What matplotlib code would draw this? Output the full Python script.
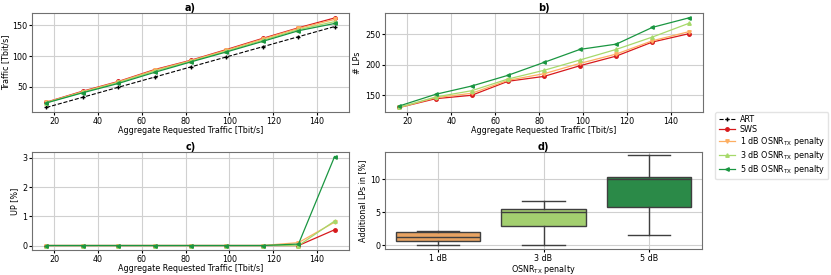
import matplotlib
matplotlib.use("Agg")
import matplotlib.pyplot as plt

plt.rcParams["font.size"] = 5.8

# aggregate requested traffic [Tbit/s]
art = [16.4, 32.9, 49.3, 65.8, 82.2, 98.6, 115.1, 131.5, 148.0]

# a) carried traffic [Tbit/s]
traffic_art = [16.4, 32.9, 49.3, 65.8, 82.2, 98.6, 115.1, 131.5, 148.0]
traffic_sws = [25.0, 42.8, 58.7, 78.0, 93.0, 110.6, 128.7, 146.0, 162.0]
traffic_1db = [24.5, 42.0, 58.0, 77.0, 92.3, 109.5, 127.5, 145.0, 159.5]
traffic_3db = [24.2, 41.2, 57.0, 75.5, 91.3, 108.0, 125.5, 143.0, 156.0]
traffic_5db = [23.8, 40.2, 55.5, 73.5, 90.3, 106.7, 123.8, 141.2, 153.0]

# b) number of LPs
lps_sws = [130.0, 144.4, 150.0, 173.0, 181.0, 198.6, 214.4, 237.4, 251.0]
lps_1db = [130.0, 146.0, 153.3, 174.6, 185.4, 202.4, 217.7, 239.5, 254.3]
lps_3db = [130.3, 147.2, 157.5, 176.7, 191.0, 208.0, 225.4, 245.6, 268.0]
lps_5db = [132.5, 151.6, 165.2, 182.8, 204.0, 225.4, 234.0, 261.5, 277.0]

# c) unserved percentage
up_sws = [0, 0, 0, 0, 0, 0, 0, 0.0, 0.54]
up_1db = [0, 0, 0, 0, 0, 0, 0, 0.10, 0.80]
up_3db = [0, 0, 0, 0, 0, 0, 0, 0.0, 0.84]
up_5db = [0, 0, 0, 0, 0, 0, 0, 0.05, 3.05]

# d) additional LPs box statistics [%]
penalties = ["1 dB", "3 dB", "5 dB"]
box_low = [0.0, 0.0, 1.56]
box_q1 = [0.6, 2.92, 5.85]
box_med = [1.2, 5.05, 10.1]
box_q3 = [1.97, 5.5, 10.3]
box_high = [2.2, 6.76, 13.6]

c_sws = "#d7191c"
c_1db = "#fdae61"
c_3db = "#a6d96a"
c_5db = "#1a9641"
box_colors = ["#e8a362", "#a3cf6f", "#2b8a48"]

fig = plt.figure(figsize=(8.31, 2.75), dpi=100)
ax_a = fig.add_axes([0.0385, 0.593, 0.3815, 0.358])
ax_b = fig.add_axes([0.4633, 0.593, 0.3827, 0.358])
ax_c = fig.add_axes([0.0385, 0.091, 0.3815, 0.356])
ax_d = fig.add_axes([0.4633, 0.094, 0.3815, 0.353])

lw = 0.9
ms = 2.5
ax_a.plot(art, traffic_art, "k--", marker="+", lw=0.8, ms=ms, label="ART")
ax_a.plot(art, traffic_sws, color=c_sws, marker="o", lw=lw, ms=ms, label="SWS")
ax_a.plot(art, traffic_1db, color=c_1db, marker="v", lw=lw, ms=ms,
          label="1 dB OSNR$_{\\mathrm{TX}}$ penalty")
ax_a.plot(art, traffic_3db, color=c_3db, marker="^", lw=lw, ms=ms,
          label="3 dB OSNR$_{\\mathrm{TX}}$ penalty")
ax_a.plot(art, traffic_5db, color=c_5db, marker="<", lw=lw, ms=ms,
          label="5 dB OSNR$_{\\mathrm{TX}}$ penalty")
ax_a.set_ylabel("Traffic [Tbit/s]", labelpad=1)

ax_b.plot(art, lps_sws, color=c_sws, marker="o", lw=lw, ms=ms)
ax_b.plot(art, lps_1db, color=c_1db, marker="v", lw=lw, ms=ms)
ax_b.plot(art, lps_3db, color=c_3db, marker="^", lw=lw, ms=ms)
ax_b.plot(art, lps_5db, color=c_5db, marker="<", lw=lw, ms=ms)
ax_b.set_ylabel("# LPs", labelpad=2)

ax_c.plot(art, up_sws, color=c_sws, marker="o", lw=lw, ms=ms)
ax_c.plot(art, up_1db, color=c_1db, marker="v", lw=lw, ms=ms)
ax_c.plot(art, up_3db, color=c_3db, marker="^", lw=lw, ms=ms)
ax_c.plot(art, up_5db, color=c_5db, marker="<", lw=lw, ms=ms)
ax_c.set_ylabel("UP [%]", labelpad=2)

for ax, t in [(ax_a, "a)"), (ax_b, "b)"), (ax_c, "c)")]:
    ax.set_xlabel("Aggregate Requested Traffic [Tbit/s]", labelpad=0)
    ax.set_title(t, fontweight="bold", fontsize=7, pad=1.5)
    ax.grid(True, color="#d0d0d0", lw=0.8)
    ax.set_axisbelow(True)

stats = []
for i in range(len(penalties)):
    stats.append({"med": box_med[i], "q1": box_q1[i], "q3": box_q3[i],
                  "whislo": box_low[i], "whishi": box_high[i], "fliers": []})
bp = ax_d.bxp(stats, positions=range(len(penalties)), widths=0.8,
              patch_artist=True,
              boxprops=dict(edgecolor="#3f3f3f", lw=1),
              medianprops=dict(color="#3f3f3f", lw=1),
              whiskerprops=dict(color="#3f3f3f", lw=1),
              capprops=dict(color="#3f3f3f", lw=1))
for patch, col in zip(bp["boxes"], box_colors):
    patch.set_facecolor(col)
ax_d.set_xticks(range(len(penalties)))
ax_d.set_xticklabels(penalties)
ax_d.set_yticks([0, 5, 10])
ax_d.set_xlim(-0.5, 2.5)
ax_d.set_ylim(-0.56, 14.1)
ax_d.set_xlabel("OSNR$_{\\mathrm{TX}}$ penalty", labelpad=0)
ax_d.set_ylabel("Additional LPs in [%]", labelpad=2)
ax_d.set_title("d)", fontweight="bold", fontsize=7, pad=1.5)
ax_d.grid(True, color="#d0d0d0", lw=0.8)
ax_d.set_axisbelow(True)

for ax in [ax_a, ax_b, ax_c, ax_d]:
    ax.tick_params(length=2, pad=1.5)
    for s in ax.spines.values():
        s.set_color("#707070")

handles, labels = ax_a.get_legend_handles_labels()
fig.legend(handles, labels, loc="center left", bbox_to_anchor=(0.856, 0.47),
           fontsize=5.8, framealpha=0.8, edgecolor="#dddddd",
           labelspacing=0.12, borderpad=0.4, handletextpad=0.6)

fig.savefig("out.png", dpi=100)
